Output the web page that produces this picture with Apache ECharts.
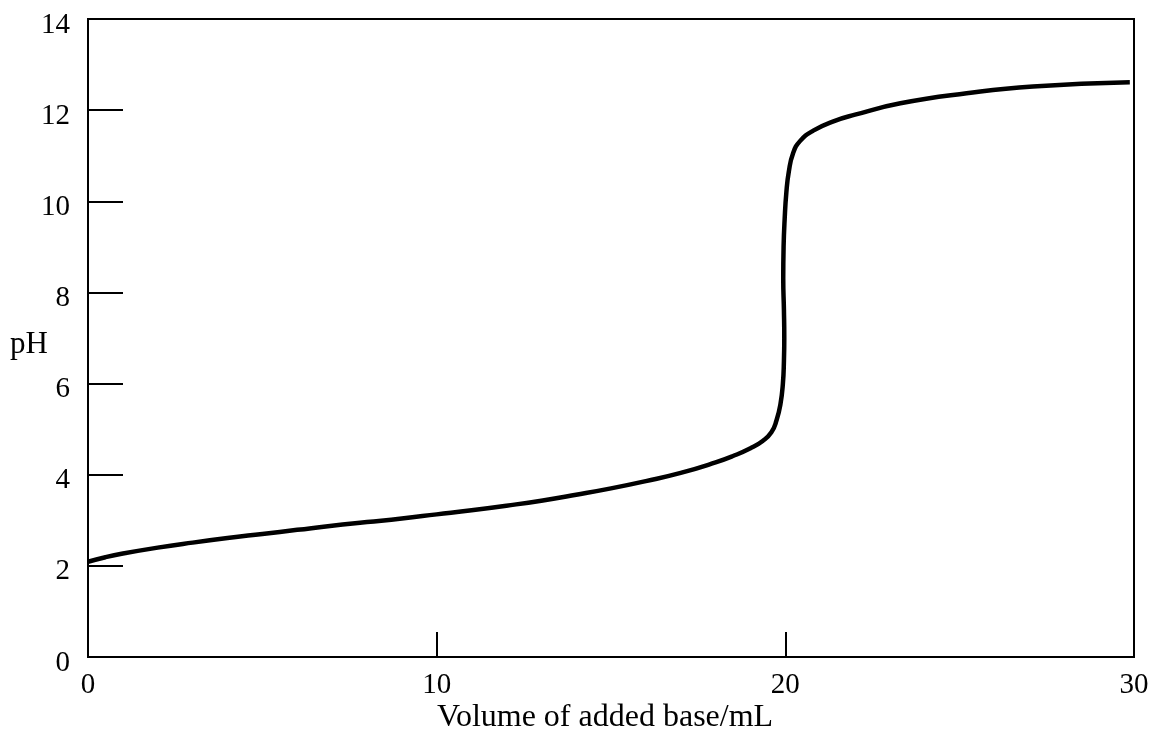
<!DOCTYPE html>
<html>
<head>
<meta charset="utf-8">
<script src="https://cdn.jsdelivr.net/npm/echarts@6/dist/echarts.min.js"></script>
<style>
html,body{margin:0;padding:0;background:#fff;}
#chart{width:1151px;height:734px;}
</style>
</head>
<body>
<div id="chart"></div>
<script>
// Titration curve: volume of added base (mL) vs pH
var volume = [0, 0.5, 1, 2, 3, 4, 5, 6, 7, 8, 9, 10, 11, 12, 13, 14, 15, 16, 17, 18, 18.5, 19, 19.35, 19.6, 19.75, 19.86, 19.93, 19.96, 19.97, 19.96, 19.94, 19.95, 19.98, 20.03, 20.1, 20.22, 20.42, 20.8, 21.4, 22, 23.3, 25.2, 27.1, 29.88];
var pH     = [2.09, 2.19, 2.27, 2.40, 2.51, 2.61, 2.70, 2.79, 2.88, 2.96, 3.04, 3.13, 3.22, 3.32, 3.43, 3.56, 3.70, 3.86, 4.04, 4.27, 4.41, 4.58, 4.74, 4.93, 5.2, 5.55, 6.0, 6.5, 7.0, 7.6, 8.3, 9.0, 9.6, 10.2, 10.65, 11.05, 11.32, 11.55, 11.76, 11.9, 12.15, 12.37, 12.52, 12.61];
var xTicks = [0, 10, 20, 30];
var yTicks = [0, 2, 4, 6, 8, 10, 12, 14];
var xTitle = 'Volume of added base/mL';
var yTitle = 'pH';

var pts = volume.map(function (v, i) { return [v, pH[i]]; });
var font = 'Liberation Serif';

var chart = echarts.init(document.getElementById('chart'), null, {renderer: 'canvas'});
chart.setOption({
  animation: false,
  backgroundColor: '#fff',
  grid: {left: 88, right: 17, top: 19, bottom: 77, show: true, borderColor: '#000', borderWidth: 2, containLabel: false, outerBoundsMode: 'none'},
  xAxis: {
    type: 'value', min: xTicks[0], max: xTicks[xTicks.length - 1], interval: xTicks[1] - xTicks[0],
    name: xTitle, nameLocation: 'middle', nameGap: 45, nameMoveOverlap: false,
    nameTextStyle: {fontFamily: font, fontSize: 32, color: '#000', padding: [0, 12, 0, 0]},
    axisLine: {show: true, lineStyle: {color: '#000', width: 2}},
    axisTick: {show: true, inside: true, length: 25, lineStyle: {color: '#000', width: 2}},
    axisLabel: {fontFamily: font, fontSize: 29, color: '#000', margin: 14},
    splitLine: {show: false}
  },
  yAxis: {
    type: 'value', min: yTicks[0], max: yTicks[yTicks.length - 1], interval: yTicks[1] - yTicks[0],
    name: yTitle, nameLocation: 'middle', nameGap: 40, nameRotate: 0, nameMoveOverlap: false,
    nameTextStyle: {fontFamily: font, fontSize: 31, color: '#000', verticalAlign: 'top', lineHeight: 14},
    axisLine: {show: true, lineStyle: {color: '#000', width: 2}},
    axisTick: {show: true, inside: true, length: 35, lineStyle: {color: '#000', width: 2}},
    axisLabel: {fontFamily: font, fontSize: 29, color: '#000', margin: 18, verticalAlign: 'top', lineHeight: 12},
    splitLine: {show: false}
  },
  series: [{
    type: 'line', data: pts, showSymbol: false, symbol: 'none', smooth: 0.5,
    lineStyle: {color: '#000', width: 4.5}
  }]
});
</script>
</body>
</html>
